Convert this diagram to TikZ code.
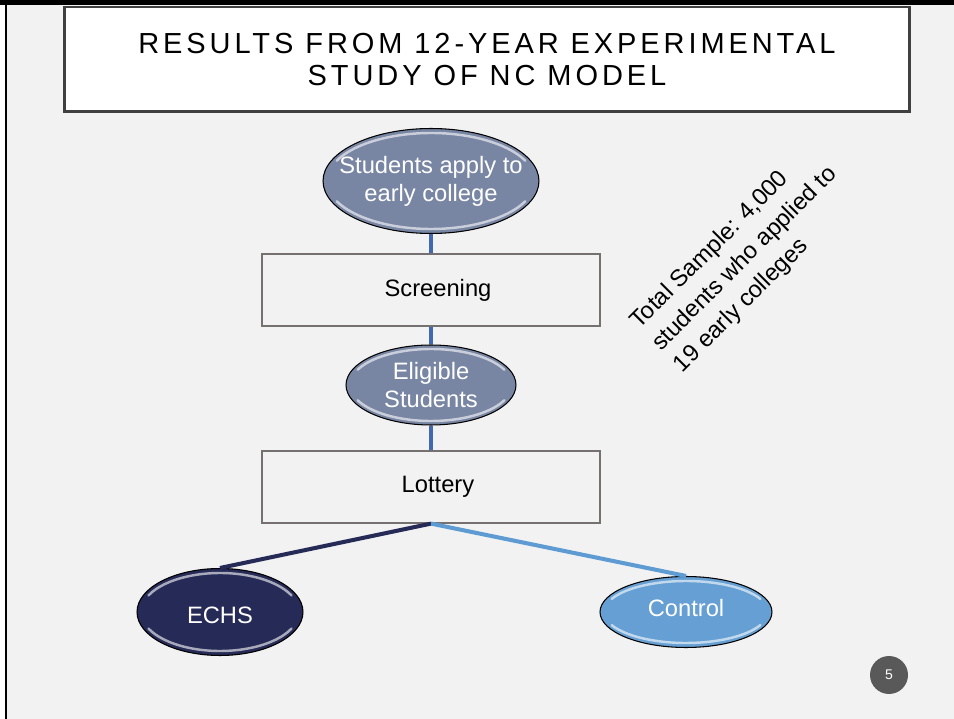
\documentclass[tikz,border=0pt]{standalone}
\usepackage{fontspec}
\setmainfont{Liberation Sans}
\newfontfamily\titlefont[LetterSpace=13.5]{Liberation Sans}
\usetikzlibrary{shapes.geometric}

\definecolor{slidebg}{HTML}{F2F2F2}
\definecolor{titlegrey}{HTML}{404040}
\definecolor{boxgrey}{HTML}{767171}
\definecolor{slate}{HTML}{7886A4}
\definecolor{linkblue}{HTML}{4468B0}
\definecolor{navy}{HTML}{262A56}
\definecolor{skyblue}{HTML}{659FD3}
\definecolor{skyline}{HTML}{5E9BD2}
\definecolor{pagegrey}{HTML}{595959}

\begin{document}
\begin{tikzpicture}[x=0.02cm,y=-0.02cm]
    \tikzstyle{bubble}=[ellipse,draw=black,line width=0.6pt,inner sep=0pt]
    \tikzstyle{bubbletext}=[text=white,align=center,font=\fontsize{13.5}{16}\selectfont]
    \tikzstyle{stage}=[rectangle,draw=boxgrey,line width=0.7pt,minimum width=6.76cm,minimum height=1.44cm,font=\fontsize{13.5}{16}\selectfont]
    \tikzstyle{shine}=[white,opacity=0.6,line width=1.4pt,line cap=round]
    \tikzstyle{link}=[line width=2.3pt]

    \useasboundingbox (0,0) rectangle (954,719);
    \fill[white] (0,0) rectangle (954,719);
    \fill[slidebg] (7,5) rectangle (954,719);
    \fill[black] (0,0) rectangle (954,5);
    \fill[black] (5,0) rectangle (7,719);

    \node (title)[draw=titlegrey,line width=1.7pt,fill=white,minimum width=16.92cm,minimum height=2.1cm,align=center,font=\titlefont\fontsize{16.5}{18}\selectfont] at (487,59.5) {RESULTS FROM 12-YEAR EXPERIMENTAL\\STUDY OF NC MODEL};

    \node (apply)[bubble,fill=slate,minimum width=4.32cm,minimum height=2.1cm,label={[bubbletext]center:Students apply to\\early college}] at (431,181) {};
    \node (screen)[stage] at (431,290) {\hspace{0.28cm}Screening};
    \node (eligible)[bubble,fill=slate,minimum width=3.4cm,minimum height=1.6cm,label={[bubbletext]center:Eligible\\Students}] at (431,385) {};
    \node (lottery)[stage] at (431,487) {\hspace{0.28cm}Lottery};
    \node (echs)[bubble,fill=navy,minimum width=3.32cm,minimum height=1.74cm,label={[bubbletext,yshift=-2pt]center:ECHS}] at (220,612) {};
    \node (control)[bubble,fill=skyblue,minimum width=3.44cm,minimum height=1.42cm,label={[bubbletext,yshift=2pt]center:Control}] at (686,612) {};

    \foreach \n/\rx/\ry in {apply/104/48,eligible/81/36,echs/79/39,control/82/31} {
        \draw[shine] (\n.center) ++(205:{\rx} and {\ry}) arc [start angle=205, end angle=335, x radius=\rx, y radius=\ry];
        \draw[shine] (\n.center) ++(25:{\rx} and {\ry}) arc [start angle=25, end angle=155, x radius=\rx, y radius=\ry];
    }

    \draw[link,linkblue] (apply.south) -- (screen.north);
    \draw[link,linkblue] (screen.south) -- (eligible.north);
    \draw[link,linkblue] (eligible.south) -- (lottery.north);
    \draw[link,navy] (lottery.south) -- (echs.north);
    \draw[link,skyline] (lottery.south) -- (control.north);

    \node (sample)[rotate=45,align=left,font=\fontsize{13.5}{17.5}\selectfont] at (745,259) {Total Sample: 4,000\\students who applied to\\19 early colleges};

    \node (page)[circle,fill=pagegrey,minimum size=0.76cm,inner sep=0pt,text=white,font=\fontsize{8}{8}\selectfont] at (889,675) {5};
\end{tikzpicture}
\end{document}
